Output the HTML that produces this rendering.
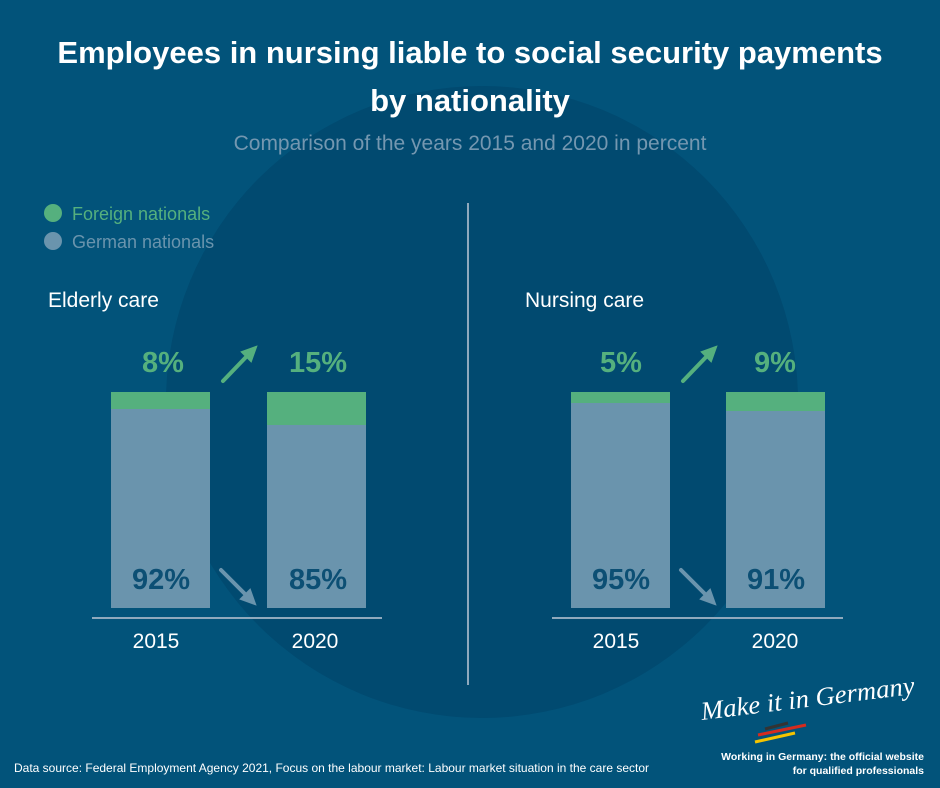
<!DOCTYPE html>
<html><head><meta charset="utf-8"><style>
body{margin:0;background:#00507a;}
svg{display:block}
</style></head><body>
<svg width="940" height="788" viewBox="0 0 940 788" xmlns="http://www.w3.org/2000/svg" font-family="Liberation Sans, sans-serif">
<rect width="940" height="788" fill="#02537a"/>
<circle cx="482" cy="402" r="316" fill="#014a70"/>
<text x="470" y="63" text-anchor="middle" fill="#fff" font-size="31" font-weight="bold">Employees in nursing liable to social security payments</text>
<text x="470" y="111" text-anchor="middle" fill="#fff" font-size="31" font-weight="bold">by nationality</text>
<text x="470" y="150" text-anchor="middle" fill="#7497b0" font-size="21">Comparison of the years 2015 and 2020 in percent</text>
<circle cx="53" cy="213" r="9" fill="#55b07e"/>
<circle cx="53" cy="241" r="9" fill="#6a94ad"/>
<text x="72" y="220" fill="#55b07e" font-size="18">Foreign nationals</text>
<text x="72" y="248" fill="#6a94ad" font-size="18">German nationals</text>
<text x="48" y="307" fill="#fff" font-size="21">Elderly care</text>
<text x="525" y="307" fill="#fff" font-size="21">Nursing care</text>
<line x1="468" y1="203" x2="468" y2="685" stroke="#8fa9bd" stroke-width="2"/>
<g>
<rect x="111" y="392" width="99" height="216" fill="#6a94ad"/><rect x="111" y="392" width="99" height="17" fill="#55b07e"/>
<rect x="267" y="392" width="99" height="216" fill="#6a94ad"/><rect x="267" y="392" width="99" height="33" fill="#55b07e"/>
<rect x="571" y="392" width="99" height="216" fill="#6a94ad"/><rect x="571" y="392" width="99" height="11" fill="#55b07e"/>
<rect x="726" y="392" width="99" height="216" fill="#6a94ad"/><rect x="726" y="392" width="99" height="19" fill="#55b07e"/>
</g>
<line x1="92" y1="618" x2="382" y2="618" stroke="#8fa9bd" stroke-width="2"/>
<line x1="552" y1="618" x2="843" y2="618" stroke="#8fa9bd" stroke-width="2"/>
<g font-size="29" font-weight="bold" text-anchor="middle" fill="#55b07e">
<text x="163" y="372">8%</text><text x="318" y="372">15%</text>
<text x="621" y="372">5%</text><text x="775" y="372">9%</text>
</g>
<g font-size="29" font-weight="bold" text-anchor="middle" fill="#0c4f74">
<text x="161" y="589">92%</text><text x="318" y="589">85%</text>
<text x="621" y="589">95%</text><text x="776" y="589">91%</text>
</g>
<g font-size="21" text-anchor="middle" fill="#fff">
<text x="156" y="648">2015</text><text x="315" y="648">2020</text>
<text x="616" y="648">2015</text><text x="775" y="648">2020</text>
</g>
<g stroke-width="4" stroke-linecap="round">
<line x1="223" y1="381" x2="248" y2="355" stroke="#55b07e"/><polygon points="256,347 242,352 251,361" fill="#55b07e" stroke="#55b07e" stroke-width="2"/>
<line x1="683" y1="381" x2="708" y2="355" stroke="#55b07e"/><polygon points="716,347 702,352 711,361" fill="#55b07e" stroke="#55b07e" stroke-width="2"/>
<line x1="221" y1="570" x2="247" y2="596" stroke="#6a94ad"/><polygon points="255,604 241,599 250,590" fill="#6a94ad" stroke="#6a94ad" stroke-width="2"/>
<line x1="681" y1="570" x2="707" y2="596" stroke="#6a94ad"/><polygon points="715,604 701,599 710,590" fill="#6a94ad" stroke="#6a94ad" stroke-width="2"/>
</g>
<text x="14" y="772" fill="#fff" font-size="12">Data source: Federal Employment Agency 2021, Focus on the labour market: Labour market situation in the care sector</text>
<text x="702" y="720" fill="#fff" font-size="26" font-style="italic" font-family="Liberation Serif, serif" textLength="215" lengthAdjust="spacingAndGlyphs" transform="rotate(-7 702 720)">Make it in Germany</text>
<line x1="765" y1="729" x2="788" y2="723" stroke="#333" stroke-width="3"/>
<line x1="758" y1="735" x2="806" y2="725" stroke="#d52b1e" stroke-width="3"/>
<line x1="755" y1="742" x2="795" y2="733" stroke="#f5c400" stroke-width="3"/>
<text x="924" y="760" text-anchor="end" fill="#fff" font-size="10.5" font-weight="bold">Working in Germany: the official website</text>
<text x="924" y="774" text-anchor="end" fill="#fff" font-size="10.5" font-weight="bold">for qualified professionals</text>
</svg>
</body></html>
